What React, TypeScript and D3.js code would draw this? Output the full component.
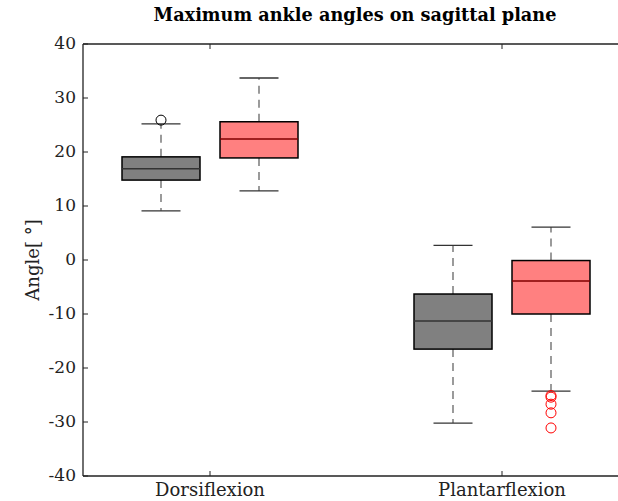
import React from "react";
import * as d3 from "d3";

const categories = ["Dorsiflexion", "Plantarflexion"];
const groups = ["A", "B"];
// [lowerWhisker, q1, median, q3, upperWhisker]
const statsA = [
  [9.1, 14.8, 16.9, 19.1, 25.2],
  [-30.2, -16.5, -11.3, -6.3, 2.7],
];
const statsB = [
  [12.8, 18.9, 22.4, 25.6, 33.7],
  [-24.3, -10.0, -3.9, -0.1, 6.1],
];
const outliersA = [[25.9], []];
const outliersB = [[], [-25.1, -25.4, -26.7, -28.3, -31.1]];
const yTicks = [-40, -30, -20, -10, 0, 10, 20, 30, 40];

const W = 618;
const H = 501;
const left = 83;
const top = 44;
const bottom = 476;
const font = "DejaVu Serif";

export default function App() {
  const y = d3.scaleLinear().domain([-40, 40]).range([bottom, top]);
  const x = d3.scalePoint<string>().domain(categories).range([210, 502]);
  const right = 502 + (210 - left);
  const offset = 49;
  const boxW = 78;
  const capW = 39;
  const fills = ["#808080", "#ff8080"];
  const medColors = ["#333333", "#800000"];
  const outColors = ["#000000", "#ff0000"];
  const allStats = [statsA, statsB];
  const allOut = [outliersA, outliersB];

  return (
    <svg width={W} height={H} style={{ position: "absolute", left: 0, top: 0 }}>
      <rect width={W} height={H} fill="#fff" />
      <text x={355} y={21} textAnchor="middle" fontFamily={font} fontWeight="bold" fontSize={17.7}>
        Maximum ankle angles on sagittal plane
      </text>
      {categories.map((c, ci) =>
        groups.map((g, gi) => {
          const s = allStats[gi][ci];
          const cx = (x(c) as number) + (gi === 0 ? -offset : offset);
          return (
            <g key={c + g}>
              <line x1={cx} x2={cx} y1={y(s[3])} y2={y(s[4])} stroke="#666" strokeWidth={1.3} strokeDasharray="8,6" />
              <line x1={cx} x2={cx} y1={y(s[1])} y2={y(s[0])} stroke="#666" strokeWidth={1.3} strokeDasharray="8,6" />
              <line x1={cx - capW / 2} x2={cx + capW / 2} y1={y(s[4])} y2={y(s[4])} stroke="#333" strokeWidth={1.3} />
              <line x1={cx - capW / 2} x2={cx + capW / 2} y1={y(s[0])} y2={y(s[0])} stroke="#333" strokeWidth={1.3} />
              <rect x={cx - boxW / 2} y={y(s[3])} width={boxW} height={y(s[1]) - y(s[3])} fill={fills[gi]} stroke="#000" strokeWidth={1.5} />
              <line x1={cx - boxW / 2} x2={cx + boxW / 2} y1={y(s[2])} y2={y(s[2])} stroke={medColors[gi]} strokeWidth={1.5} />
              {allOut[gi][ci].map((v, k) => (
                <circle key={k} cx={cx} cy={y(v)} r={5} fill="none" stroke={outColors[gi]} strokeWidth={1} />
              ))}
            </g>
          );
        })
      )}
      <line x1={left} x2={right} y1={top} y2={top} stroke="#222" strokeWidth={1.3} />
      <line x1={left} x2={right} y1={bottom} y2={bottom} stroke="#222" strokeWidth={1.3} />
      <line x1={left} x2={left} y1={top} y2={bottom} stroke="#222" strokeWidth={1.3} />
      {yTicks.map((t) => (
        <g key={t}>
          <line x1={left} x2={left + 5} y1={y(t)} y2={y(t)} stroke="#222" strokeWidth={1} />
          <text x={left - 7} y={y(t)} dy="0.3em" textAnchor="end" fontFamily={font} fontSize={17} fill="#222">
            {t}
          </text>
        </g>
      ))}
      {categories.map((c) => (
        <g key={c}>
          <line x1={x(c)} x2={x(c)} y1={bottom} y2={bottom - 5} stroke="#222" strokeWidth={1} />
          <line x1={x(c)} x2={x(c)} y1={top} y2={top + 5} stroke="#222" strokeWidth={1} />
          <text x={x(c)} y={496} textAnchor="middle" fontFamily={font} fontSize={18} fill="#222">
            {c}
          </text>
        </g>
      ))}
      <text transform={`translate(39,${(top + bottom) / 2}) rotate(-90)`} textAnchor="middle" fontFamily={font} fontSize={18} fill="#222">
        Angle[ °]
      </text>
    </svg>
  );
}
